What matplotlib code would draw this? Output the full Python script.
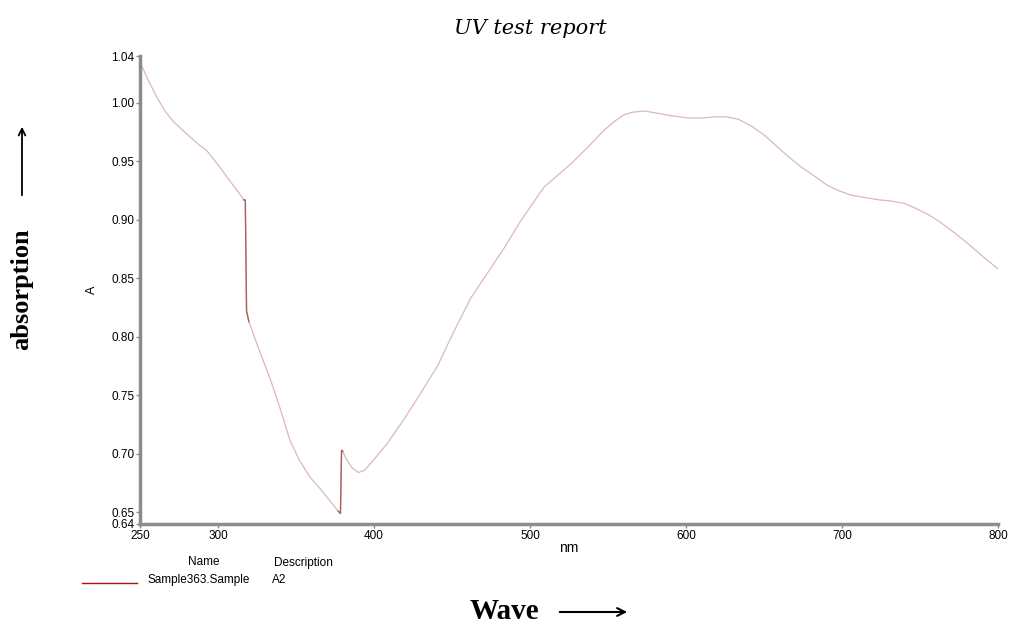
import matplotlib
matplotlib.use("Agg")
import matplotlib.pyplot as plt

wavelength = [250, 255, 260.7, 266, 271.4, 277, 282, 287, 292.9, 300, 305, 310, 314, 316.4, 317.5,
              318.3, 319.8, 326, 333.5, 340, 346, 352, 359, 365, 371, 377, 378.5,
              379.2, 380, 382, 386, 390, 394, 398, 408, 419, 430, 440.7, 451, 462, 472,
              483.5, 494, 509, 526.4, 537, 547.8, 555, 560.6, 566, 573.5, 582, 590.6, 601,
              610, 618.4, 626, 633.5, 642, 650.6, 658, 665.6, 674, 682.7, 690, 697.7, 706,
              714.8, 724, 732, 740, 747, 756, 764, 772, 781.3, 790, 800]
absorbance = [1.035, 1.020, 1.005, 0.993, 0.984, 0.977, 0.971, 0.965, 0.959, 0.947, 0.938, 0.929, 0.922, 0.917, 0.917,
              0.822, 0.813, 0.790, 0.764, 0.738, 0.712, 0.695, 0.680, 0.671, 0.661, 0.651, 0.649,
              0.703, 0.702, 0.696, 0.688, 0.684, 0.686, 0.692, 0.708, 0.729, 0.752, 0.775, 0.804, 0.833, 0.853,
              0.876, 0.899, 0.928, 0.948, 0.962, 0.977, 0.985, 0.990, 0.992, 0.993, 0.991, 0.989, 0.987,
              0.987, 0.988, 0.988, 0.986, 0.980, 0.972, 0.963, 0.954, 0.945, 0.937, 0.930, 0.925, 0.921,
              0.919, 0.917, 0.916, 0.914, 0.910, 0.904, 0.897, 0.889, 0.879, 0.869, 0.858]

xticks = [250, 300, 400, 500, 600, 700, 800]
yticks = [0.64, 0.65, 0.70, 0.75, 0.80, 0.85, 0.90, 0.95, 1.00, 1.04]

W, H = 1009, 628
fig = plt.figure(figsize=(W / 100, H / 100), dpi=100)
ax = fig.add_axes([140 / W, 1 - 524 / H, (998 - 140) / W, (524 - 56) / H])

ax.plot(wavelength, absorbance, color="#dcb8b8", lw=0.9)
# darker segments near the drops
ax.plot(wavelength[13:17], absorbance[13:17], color="#a86060", lw=1.0)
ax.plot(wavelength[25:29], absorbance[25:29], color="#a86060", lw=1.0)

ax.set_xlim(250, 800)
ax.set_ylim(0.64, 1.04)
ax.set_xticks(xticks)
ax.set_xticklabels([str(t) for t in xticks])
ax.set_yticks(yticks)
ax.set_yticklabels([f"{t:.2f}" for t in yticks])

for s in ["top", "right"]:
    ax.spines[s].set_visible(False)
for s in ["left", "bottom"]:
    ax.spines[s].set_color("#8c8c8c")
    ax.spines[s].set_linewidth(2.5)

sans = "Liberation Sans"
ax.tick_params(axis="both", direction="out", length=3, width=1, color="#8c8c8c",
               labelsize=8.5, pad=1)
for lbl in ax.get_xticklabels() + ax.get_yticklabels():
    lbl.set_fontfamily(sans)

def fx(x):
    return x / W

def fy(y):
    return 1 - y / H

fig.text(fx(530), fy(29), "UV test report", fontsize=15, style="italic",
         family="DejaVu Serif", ha="center", va="center")
fig.text(fx(92), fy(290), "A", fontsize=9, family=sans, rotation=90, ha="center", va="center")
fig.text(fx(569), fy(548), "nm", fontsize=10, family=sans, ha="center", va="center")

fig.text(fx(22), fy(289), "absorption", fontsize=19, weight="bold", family="Liberation Serif",
         rotation=90, ha="center", va="center")
fig.add_artist(matplotlib.patches.FancyArrowPatch((fx(22), fy(198)), (fx(22), fy(124)),
               transform=fig.transFigure, arrowstyle="->", mutation_scale=12, lw=1.3, color="black"))

fig.text(fx(470), fy(619), "Wave", fontsize=21, weight="bold", family="Liberation Serif",
         ha="left", va="baseline")
fig.add_artist(matplotlib.patches.FancyArrowPatch((fx(557), fy(612)), (fx(630), fy(612)),
               transform=fig.transFigure, arrowstyle="->", mutation_scale=14, lw=1.5, color="black"))

# legend block
fig.text(fx(204), fy(562), "Name", fontsize=8.5, family=sans, ha="center", va="center")
fig.text(fx(303), fy(563), "Description", fontsize=8.5, family=sans, ha="center", va="center")
fig.text(fx(147), fy(580), "Sample363.Sample", fontsize=8.5, family=sans, ha="left", va="center")
fig.text(fx(272), fy(580), "A2", fontsize=8.5, family=sans, ha="left", va="center")
fig.add_artist(matplotlib.lines.Line2D([fx(82), fx(137)], [fy(583), fy(583)],
               transform=fig.transFigure, color="#b01010", lw=1))

fig.savefig("out.png", dpi=100)
